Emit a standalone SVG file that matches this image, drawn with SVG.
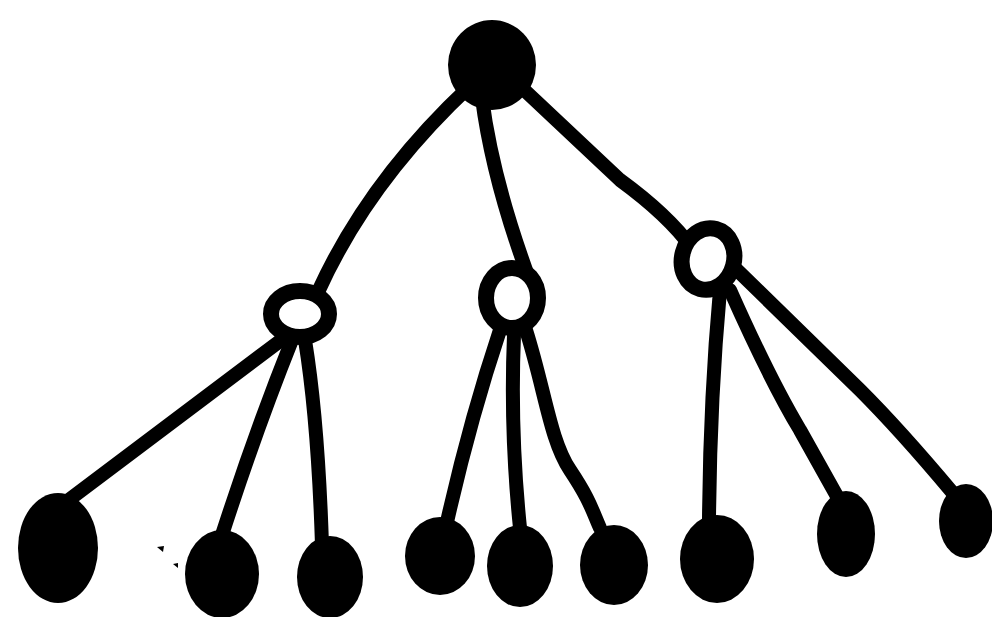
<svg xmlns="http://www.w3.org/2000/svg" width="992" height="617" viewBox="0 0 992 617">
<style>
.edge{fill:none;stroke:#000;stroke-width:14;stroke-linecap:round;stroke-linejoin:round}
.leaf{fill:#000}
.hub{fill:#fff;stroke:#000;stroke-width:16}
</style>
<rect width="992" height="617" fill="#fff"/>
<g id="connectors">
<path class="edge" d="M470,86 C 425,128 362,195 318,292"/>
<path class="edge" d="M482,98 C 490,160 508,220 526,270"/>
<path class="edge" d="M520,86 L 620,180 Q 668,215 692,248"/>
<path class="edge" d="M284,338 L 62,505"/>
<path class="edge" d="M292,340 Q 256,430 222,535"/>
<path class="edge" d="M305,340 Q 318,420 322,545"/>
<path class="edge" d="M500,330 Q 470,420 447,522"/>
<path class="edge" d="M514,335 Q 510,430 520,528"/>
<path class="edge" d="M526,330 C 545,390 550,440 570,470 S 592,510 600,528"/>
<path class="edge" d="M720,290 Q 710,400 709,520"/>
<path class="edge" d="M730,290 Q 770,380 800,430 L 838,498"/>
<path class="edge" d="M735,268 L 860,390 Q 900,430 952,492"/>
</g>
<g id="root"><ellipse class="leaf" cx="492" cy="65" rx="44" ry="45"/></g>
<g id="hubL"><ellipse class="hub" cx="300" cy="314" rx="29" ry="23"/></g>
<g id="hubM"><ellipse class="hub" cx="512" cy="298" rx="26" ry="30"/></g>
<g id="hubR"><ellipse class="hub" cx="708" cy="259" rx="26" ry="31" transform="rotate(15 708 259)"/></g>
<g id="leaf1"><ellipse class="leaf" cx="58" cy="548" rx="40" ry="55"/></g>
<g id="leaf2"><ellipse class="leaf" cx="222" cy="574" rx="37" ry="44"/></g>
<g id="leaf3"><ellipse class="leaf" cx="330" cy="577" rx="33" ry="41"/></g>
<g id="leaf4"><ellipse class="leaf" cx="440" cy="556" rx="35" ry="39"/></g>
<g id="leaf5"><ellipse class="leaf" cx="520" cy="566" rx="33" ry="41"/></g>
<g id="leaf6"><ellipse class="leaf" cx="614" cy="565" rx="34" ry="40"/></g>
<g id="leaf7"><ellipse class="leaf" cx="717" cy="559" rx="37" ry="44"/></g>
<g id="leaf8"><ellipse class="leaf" cx="846" cy="534" rx="29" ry="43"/></g>
<g id="leaf9"><ellipse class="leaf" cx="966" cy="521" rx="27" ry="37"/></g>
<polygon points="157,547 164,546 163,552" fill="#000"/>
<polygon points="173,564 178,563 178,568" fill="#000"/>
</svg>
